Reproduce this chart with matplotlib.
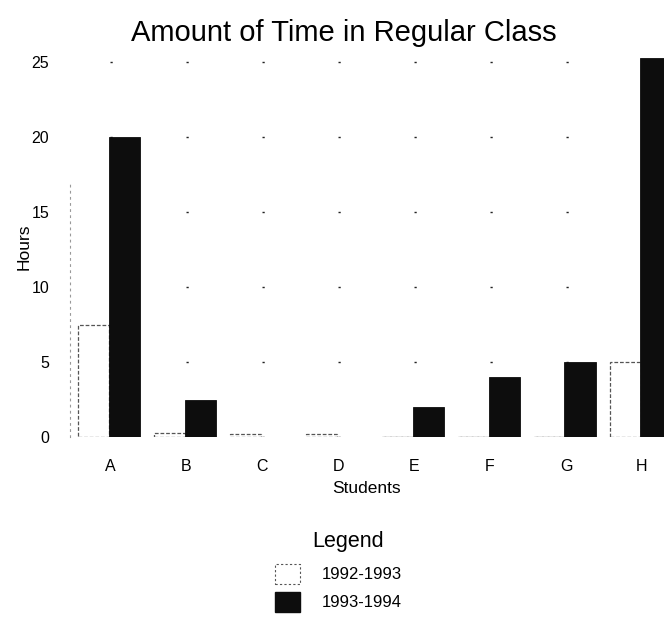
import matplotlib
matplotlib.use("Agg")
import matplotlib.pyplot as plt
from matplotlib.patches import Patch
import numpy as np

plt.rcParams['font.family'] = ['Liberation Sans', 'DejaVu Sans']

students = ['A', 'B', 'C', 'D', 'E', 'F', 'G', 'H']
hours_1992_1993 = [7.5, 0.3, 0.2, 0.2, 0.0, 0.0, 0.0, 5.0]
hours_1993_1994 = [20.0, 2.5, 0.0, 0.0, 2.0, 4.0, 5.0, 25.3]
y_ticks = [0, 5, 10, 15, 20, 25]

fig = plt.figure(figsize=(6.64, 6.19), dpi=100)
ax = fig.add_axes([0.1054, 0.294, 0.8946, 0.6155])

x = np.arange(len(students))
w = 0.41
ax.bar(x - 0.22, hours_1992_1993, width=w, facecolor='white', edgecolor='#555555',
       linewidth=0.9, linestyle=(0, (3, 1.5)), zorder=3)
ax.bar(x + 0.185, hours_1993_1994, width=w, facecolor='#0d0d0d', edgecolor='#0d0d0d',
       linewidth=0.6, zorder=3)

ax.set_xlim(-0.53, 7.29)
ax.set_ylim(0, 25.4)
ax.set_yticks(y_ticks)
ax.set_xticks(x)
ax.set_xticklabels(students)
ax.tick_params(length=0, labelsize=11.5)
ax.tick_params(axis='y', pad=15)
ax.tick_params(axis='x', pad=16)
for name, s in ax.spines.items():
    s.set_visible(False)
ax.spines['left'].set_visible(True)
ax.spines['left'].set_color('#999999')
ax.spines['left'].set_linewidth(0.8)
ax.spines['left'].set_linestyle((0, (1.5, 4)))
ax.spines['left'].set_bounds(0, 17)
period = 76 * 72 / 100.0
ax.yaxis.grid(True, color='#222222', linewidth=1.0, linestyle=(period - 40 * 0.72, (1.6, period - 1.6)))
ax.set_axisbelow(True)

ax.set_xlabel('Students', fontsize=12.5, labelpad=5)
ax.set_ylabel('Hours', fontsize=12.5, labelpad=0)
fig.text(0.518, 0.946, 'Amount of Time in Regular Class', ha='center', va='center', fontsize=21)

fig.text(348 / 664, 1 - 542 / 619, 'Legend', ha='center', va='center', fontsize=15.5)
handles = [Patch(facecolor='white', edgecolor='#555555', linestyle=(0, (2, 2)), linewidth=0.8, label='1992-1993'),
           Patch(facecolor='#0d0d0d', edgecolor='#0d0d0d', label='1993-1994')]
leg = fig.legend(handles=handles, loc='upper left', bbox_to_anchor=(263 / 664, 1 - 552 / 619),
                 frameon=False, fontsize=12, handlelength=1.5, handleheight=1.5,
                 handletextpad=1.3, labelspacing=0.45, borderpad=0.2)

fig.savefig('out.png', dpi=100)
